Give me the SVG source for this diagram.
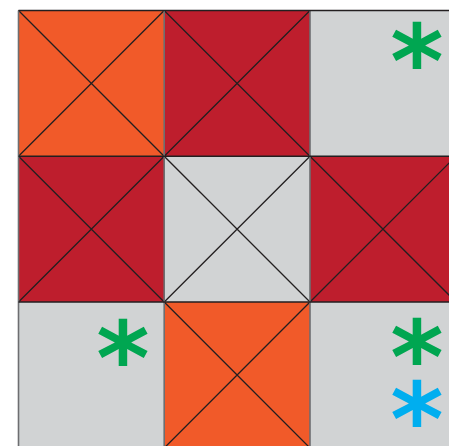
<svg xmlns="http://www.w3.org/2000/svg" width="449" height="446" viewBox="0 0 449 446">
<style>
.o{fill:#f15a29}.r{fill:#be1e2d}.g{fill:#d1d3d4}
.d{stroke:#231f20;stroke-width:1.3;fill:none}
.v{stroke:#6d6e71;stroke-width:1.6}
.h{stroke:#231f20;stroke-width:1.6}
.ast{font-family:"DejaVu Sans",sans-serif;font-weight:bold;font-size:102px;text-anchor:middle}
</style>
<rect width="449" height="446" fill="#ffffff"/>
<g id="c00"><rect class="o" x="18.5" y="10.5" width="145.7" height="145.7"/></g>
<g id="c01"><rect class="r" x="164.2" y="10.5" width="145.8" height="145.7"/></g>
<g id="c02"><rect class="g" x="310" y="10.5" width="146" height="145.7"/><text class="ast" x="417" y="97" fill="#00a651">*</text></g>
<g id="c10"><rect class="r" x="18.5" y="156.2" width="145.7" height="145.8"/></g>
<g id="c11"><rect class="g" x="164.2" y="156.2" width="145.8" height="145.8"/></g>
<g id="c12"><rect class="r" x="310" y="156.2" width="146" height="145.8"/></g>
<g id="c20"><rect class="g" x="18.5" y="302" width="145.7" height="146"/><text class="ast" x="123" y="394" fill="#00a651">*</text></g>
<g id="c21"><rect class="o" x="164.2" y="302" width="145.8" height="146"/></g>
<g id="c22"><rect class="g" x="310" y="302" width="146" height="146"/><text class="ast" x="417" y="393" fill="#00a651">*</text><text class="ast" x="417" y="455" fill="#00aeef">*</text></g>
<g id="lines">
<path class="d" d="M18.5 10.5L164.2 156.2M164.2 10.5L18.5 156.2"/>
<path class="d" d="M164.2 10.5L310 156.2M310 10.5L164.2 156.2"/>
<path class="d" d="M18.5 156.2L164.2 302M164.2 156.2L18.5 302"/>
<path class="d" d="M164.2 156.2L310 302M310 156.2L164.2 302"/>
<path class="d" d="M310 156.2L456 302M456 156.2L310 302"/>
<path class="d" d="M164.2 302L310 448M310 302L164.2 448"/>
<path class="v" d="M18.5 10.5V446M164.2 10.5V446M310 10.5V446"/>
<path class="h" d="M18.5 10.5H449M18.5 156.2H449M18.5 302H449"/>
</g>
</svg>
